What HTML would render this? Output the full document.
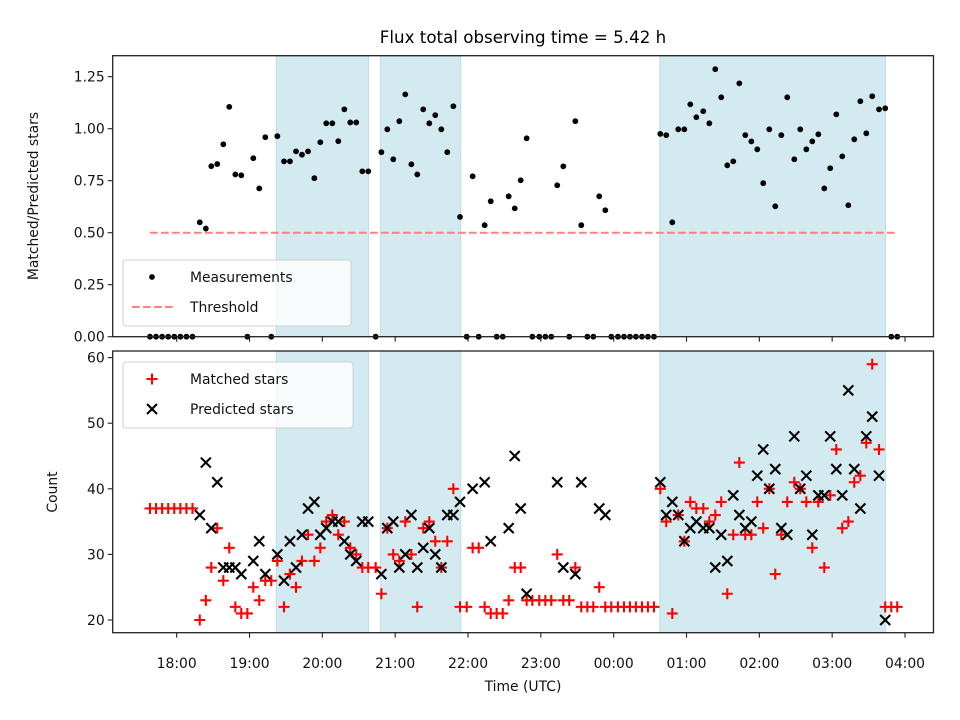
<!DOCTYPE html>
<html><head><meta charset="utf-8"><style>
body{margin:0;background:#fff}
svg{display:block;font-family:"DejaVu Sans","Liberation Sans",sans-serif}
</style></head><body>
<svg id="chart" width="960" height="720" viewBox="0 0 960 720">
<rect width="960" height="720" fill="#fff"/>
<text x="523" y="43" text-anchor="middle" font-size="16.7">Flux total observing time = 5.42 h</text>
<g id="topPanel"></g><g id="botPanel"></g>
</svg>
<script>
// minutes since 18:00 UTC
const times=[-22,-17,-12,-7,-2,3,8,13,19,24,28.5,33.4,38.4,43.3,48.3,53.2,58.2,63.1,68,73,77.9,82.9,88.4,93.3,98.3,103.2,108.2,113.4,118.3,123.2,128.2,133.1,138.1,143,147.9,152.9,157.8,163.9,168.6,173.5,178.4,183.4,188.3,193.3,198.2,203.1,208.1,213,218,222.9,227.9,233.4,238.9,243.8,248.8,253.7,258.7,263.6,268.6,273.5,278.5,283.4,288.3,293,298.7,303.7,308.6,313.5,318.5,323.4,328.4,333.3,338.3,343.2,348.1,353.1,358,363.5,368.5,373.4,378.3,383.3,388.2,393.2,398.4,403.3,408.3,413.2,418.2,423.1,428.1,433.8,438.8,443.7,448.6,453.6,458.5,463.5,468.4,473.4,478.3,483.2,488.2,493.1,498.1,503,508.8,513.7,518.7,523.6,528.6,533.5,538.4,543.4,548.3,553.3,558.2,563.2,568.1,573,578.6,583.7,588.7,593.6];
const ratio=[0,0,0,0,0,0,0,0,.55,.52,.82,.83,.925,1.105,.78,.776,0,.858,.713,.959,0,.964,.843,.843,.891,.875,.891,.762,.935,1.026,1.026,.94,1.093,1.03,1.03,.795,.795,0,.887,.997,.853,1.036,1.165,.829,.78,1.093,1.026,1.065,.997,.887,1.108,.576,0,.771,0,.536,.651,0,0,.675,.617,.752,.954,0,0,0,0,.728,.819,0,1.036,.536,0,0,.675,.608,0,0,0,0,0,0,0,0,.975,.969,.55,.997,.997,1.117,1.055,1.084,1.026,1.286,1.151,.824,.843,1.218,.969,.939,.901,.738,.997,.627,.969,1.151,.853,.997,.901,.939,.973,.713,.81,1.069,.867,.632,.949,1.132,.978,1.156,1.093,1.098,0,0];
const matched=[37,37,37,37,37,37,37,37,20,23,28,34,26,31,22,21,21,25,23,26,26,29,22,27,25,29,33,29,31,35,36,33,35,31,30,28,28,28,24,34,30,29,35,30,22,34,35,32,28,32,40,22,22,31,31,22,21,21,21,23,28,28,23,23,23,23,23,30,23,23,28,22,22,22,25,22,22,22,22,22,22,22,22,22,40,35,21,36,32,38,37,37,35,36,38,24,33,44,33,33,38,34,40,27,33,38,41,40,38,31,38,28,39,46,34,35,41,42,47,59,46,22,22,22];
const predicted=[null,null,null,null,null,null,null,null,36,44,34,41,28,28,28,27,null,29,32,27,null,30,26,32,28,33,37,38,33,34,35,35,32,30,29,35,35,null,27,34,35,28,30,36,28,31,34,30,28,36,36,38,null,40,null,41,32,null,null,34,45,37,24,null,null,null,null,41,28,null,27,41,null,null,37,36,null,null,null,null,null,null,null,null,41,36,38,36,32,34,35,34,34,28,33,29,39,36,34,35,42,46,40,43,34,33,48,40,42,33,39,39,48,43,39,55,43,37,48,51,42,20,null,null];
const spans=[[82,158],[168,234],[398,584]];
const xTickLabels=["18:00","19:00","20:00","21:00","22:00","23:00","00:00","01:00","02:00","03:00","04:00"];
const topTicks=[0,0.25,0.5,0.75,1.0,1.25];
const botTicks=[20,30,40,50,60];
const threshold=0.5;

const NS="http://www.w3.org/2000/svg";
const L=112.7,R=933.5,T1=55.7,B1=336.7,T2=351,B2=632.7;
const X=m=>176.7+m*72.83/60;
const Y1=v=>336.7-v*208;
const Y2=v=>620-(v-20)*6.56;
function mk(p,tag,at){const e=document.createElementNS(NS,tag);for(const k in at)e.setAttribute(k,at[k]);p.appendChild(e);return e;}
const gTop=document.getElementById('topPanel'),gBot=document.getElementById('botPanel');

function panel(g,T,B,name){
  spans.forEach(s=>{const r=mk(g,'rect',{x:X(s[0]),y:T,width:X(s[1])-X(s[0]),height:B-T,fill:'#d4eaf1',stroke:'#bcdde8','stroke-width':1});
    
    });
  xTickLabels.forEach((lb,i)=>{const x=X(i*60);const t=mk(g,'line',{x1:x,x2:x,y1:B,y2:B+5,stroke:'#222','stroke-width':1.1});
    
    });
}
panel(gTop,T1,B1,'top');panel(gBot,T2,B2,'bottom');

const th=mk(gTop,'line',{x1:X(times[0]),x2:X(times[times.length-1]),y1:Y1(threshold),y2:Y1(threshold),stroke:'#ff8080','stroke-width':2,'stroke-dasharray':'7.7,3.3'});


times.forEach((t,i)=>{const c=mk(gTop,'circle',{cx:X(t),cy:Y1(ratio[i]),r:2.9,fill:'#000'});
  
  });
times.forEach((t,i)=>{const x=X(t),y=Y2(matched[i]);
  const p=mk(gBot,'path',{d:`M${x-5.5} ${y}H${x+5.5}M${x} ${y-5.5}V${y+5.5}`,stroke:'#f00','stroke-width':2.1,fill:'none'});
  
  });
times.forEach((t,i)=>{if(predicted[i]==null)return;const x=X(t),y=Y2(predicted[i]);
  const p=mk(gBot,'path',{d:`M${x-5} ${y-5}L${x+5} ${y+5}M${x-5} ${y+5}L${x+5} ${y-5}`,stroke:'#000','stroke-width':2.1,fill:'none'});
  
  });

function frame(g,T,B,ticks,Yf,fmt,name){
  ticks.forEach(v=>{const y=Yf(v);mk(g,'line',{x1:L-5,x2:L,y1:y,y2:y,stroke:'#222','stroke-width':1.1});
    const tx=mk(g,'text',{x:L-8,y:y+5,'text-anchor':'end','font-size':13.9,fill:'#111'});tx.textContent=fmt(v);
    
    });
  const f=mk(g,'rect',{x:L,y:T,width:R-L,height:B-T,fill:'none',stroke:'#222','stroke-width':1.3});
  
  
}
frame(gTop,T1,B1,topTicks,Y1,v=>v.toFixed(2),'top');
frame(gBot,T2,B2,botTicks,Y2,v=>String(v),'bottom');
xTickLabels.forEach((lb,i)=>{const t=mk(gBot,'text',{x:X(i*60),y:668,'text-anchor':'middle','font-size':13.9,fill:'#111'});t.textContent=lb;
  
  });
</script>
<svg width="960" height="720" style="position:absolute;left:0;top:0">
<g font-family="DejaVu Sans, Liberation Sans, sans-serif" fill="#111">
<text x="523" y="691" text-anchor="middle" font-size="13.9">Time (UTC)</text>
<text transform="translate(38,196) rotate(-90)" text-anchor="middle" font-size="13.9">Matched/Predicted stars</text>
<text transform="translate(57,492) rotate(-90)" text-anchor="middle" font-size="13.9">Count</text>
<g>
<rect x="123" y="260" width="228" height="66" rx="3" fill="#fff" fill-opacity="0.8" stroke="#d0d0d0"/>
<circle cx="152" cy="277" r="2.9" fill="#000"/>
<text x="190" y="282" font-size="13.9">Measurements</text>
<line x1="132" x2="173" y1="307" y2="307" stroke="#ff8080" stroke-width="2" stroke-dasharray="7.7,3.3"/>
<text x="190" y="312" font-size="13.9">Threshold</text>
</g>
<g>
<rect x="123" y="362" width="230" height="66" rx="3" fill="#fff" fill-opacity="0.8" stroke="#d0d0d0"/>
<path d="M146.5 379H157.5M152 373.5V384.5" stroke="#f00" stroke-width="2.1"/>
<text x="190" y="384" font-size="13.9">Matched stars</text>
<path d="M147 404L157 414M147 414L157 404" stroke="#000" stroke-width="2.1"/>
<text x="190" y="414" font-size="13.9">Predicted stars</text>
</g>
</g>
</svg>
</body></html>
